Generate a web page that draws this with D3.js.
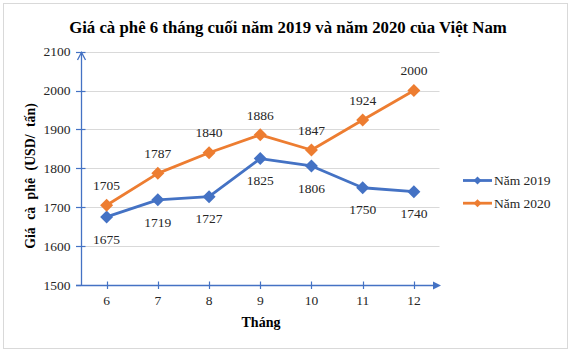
<!DOCTYPE html>
<html><head><meta charset="utf-8">
<script src="https://cdn.jsdelivr.net/npm/d3@7"></script>
<style>body{margin:0;background:#fff}svg{display:block}svg text{font-family:"Liberation Serif","Times New Roman",serif}</style>
</head><body><svg id="c" width="577" height="355" font-family="Liberation Serif, Times New Roman, serif"></svg>
<script>
const months = ["6","7","8","9","10","11","12"];
const seriesNames = ["Năm 2019","Năm 2020"];
const values2019 = [1675,1719,1727,1825,1806,1750,1740];
const values2020 = [1705,1787,1840,1886,1847,1924,2000];
const yTicks = [1500,1600,1700,1800,1900,2000,2100];
const colors = ["#4472C4","#ED7D31"];
const title = "Giá cà phê 6 tháng cuối năm 2019 và năm 2020 của Việt Nam";
const yTitle = "Giá cà phê (USD/ tấn)";
const xTitle = "Tháng";

const FONT = "Liberation Serif";
const svg = d3.select("#c");
svg.append("rect").attr("x",3.5).attr("y",3.5).attr("width",564).attr("height",345)
  .attr("fill","#fff").attr("stroke","#d9d9d9");

const x = d3.scaleBand().domain(months).range([81,439.5]);
const y = d3.scaleLinear().domain([1500,2100]).range([285,51.6]);
const cx = d => x(d)+x.bandwidth()/2;

// gridlines
svg.append("g").selectAll("line").data(yTicks.slice(1)).join("line")
  .attr("x1",81).attr("x2",439.5).attr("y1",d=>Math.round(y(d))+0.5).attr("y2",d=>Math.round(y(d))+0.5)
  .attr("stroke","#d9d9d9").attr("stroke-width",1);

const axisCol = "#4472C4";
// y axis
const ya = svg.append("g");
ya.selectAll("line.t").data(yTicks).join("line").attr("class","t")
  .attr("x1",76).attr("x2",d=>d===1500?81:85.5)
  .attr("y1",d=>Math.round(y(d))+0.5).attr("y2",d=>Math.round(y(d))+0.5)
  .attr("stroke",axisCol).attr("stroke-width",1.2);
ya.selectAll("text").data(yTicks).join("text")
  .attr("x",70.5).attr("y",d=>y(d)).attr("dy","0.35em").attr("text-anchor","end")
  .attr("font-family",FONT).attr("font-size",13.5).attr("fill","#262626").text(d=>d);
ya.append("line").attr("x1",81.5).attr("x2",81.5).attr("y1",285.5).attr("y2",53)
  .attr("stroke",axisCol).attr("stroke-width",1.3);
ya.append("path").attr("d","M77.5,60 L81.5,52.5 L85.5,60").attr("fill","none")
  .attr("stroke",axisCol).attr("stroke-width",1.3);

// x axis
const xa = svg.append("g");
xa.append("line").attr("x1",76).attr("x2",436).attr("y1",285.5).attr("y2",285.5)
  .attr("stroke",axisCol).attr("stroke-width",1.3);
xa.append("path").attr("d","M433,281.5 L441,285.5 L433,289.5 Z").attr("fill",axisCol);
xa.selectAll("line.t").data(months).join("line").attr("class","t")
  .attr("x1",d=>Math.round(cx(d))+0.5).attr("x2",d=>Math.round(cx(d))+0.5)
  .attr("y1",281.5).attr("y2",289).attr("stroke",axisCol).attr("stroke-width",1.2);
xa.selectAll("text").data(months).join("text")
  .attr("x",d=>cx(d)).attr("y",300.5).attr("dy","0.35em").attr("text-anchor","middle")
  .attr("font-family",FONT).attr("font-size",13.5).attr("fill","#262626").text(d=>d);

// titles
svg.append("text").attr("x",288).attr("y",27).attr("dy","0.35em").attr("text-anchor","middle")
  .attr("font-family",FONT).attr("font-size",16.8).attr("font-weight","bold").attr("fill","#000").text(title);
svg.append("text").attr("transform","translate(30,176) rotate(-90)").attr("dy","0.35em")
  .attr("text-anchor","middle").attr("font-family",FONT).attr("font-size",13.8).attr("word-spacing",4)
  .attr("font-weight","bold").attr("fill","#000").text(yTitle);
svg.append("text").attr("x",261).attr("y",322).attr("dy","0.35em").attr("text-anchor","middle")
  .attr("font-family",FONT).attr("font-size",14).attr("font-weight","bold").attr("fill","#000").text(xTitle);

// series
const diamond = (px,py,r) => `M${px},${py-r} L${px+r},${py} L${px},${py+r} L${px-r},${py} Z`;
const allSeries = [values2019, values2020];
const line = d3.line().x((d,i)=>cx(months[i])).y(d=>y(d));
allSeries.forEach((vals,si)=>{
  const g = svg.append("g");
  g.append("path").datum(vals).attr("d",line).attr("fill","none")
    .attr("stroke",colors[si]).attr("stroke-width",2.8).attr("stroke-linejoin","round");
  g.selectAll("path.m").data(vals).join("path").attr("class","m")
    .attr("d",(d,i)=>diamond(cx(months[i]),y(d),6.5)).attr("fill",colors[si]);
  g.selectAll("text").data(vals).join("text")
    .attr("x",(d,i)=>cx(months[i])).attr("y",d=>y(d)+(si===0?22:-20)).attr("dy","0.35em")
    .attr("text-anchor","middle").attr("font-family",FONT).attr("font-size",13.5).attr("fill","#262626").text(d=>d);
});

// legend
const lg = svg.append("g");
seriesNames.forEach((n,i)=>{
  const ly = 180.5 + i*22.7;
  lg.append("line").attr("x1",463).attr("x2",492).attr("y1",ly).attr("y2",ly)
    .attr("stroke",colors[i]).attr("stroke-width",2.8);
  lg.append("path").attr("d",diamond(477.5,ly,4)).attr("fill",colors[i]);
  lg.append("text").attr("x",494).attr("y",ly).attr("dy","0.35em").attr("font-family",FONT).attr("font-size",13.5)
    .attr("fill","#262626").text(n);
});
</script></body></html>
